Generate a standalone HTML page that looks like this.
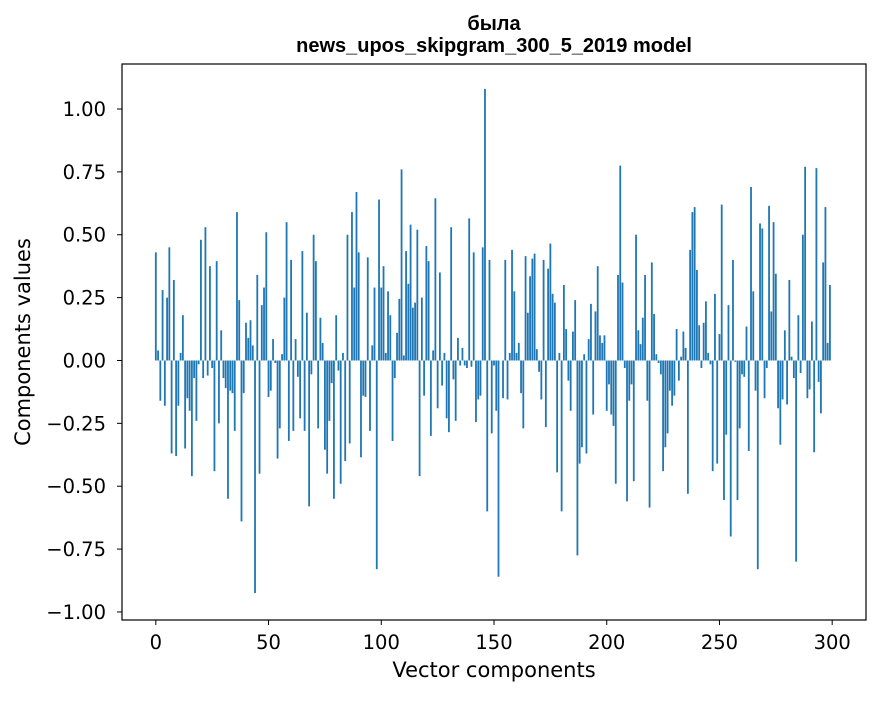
<!DOCTYPE html>
<html><head><meta charset="utf-8"><style>
body{margin:0;background:#fff;}
svg text{font-family:"DejaVu Sans","Liberation Sans",sans-serif;fill:#000;}
svg text.title{font-family:"Liberation Sans","DejaVu Sans",sans-serif;}
</style></head><body>
<svg id="chart" width="880" height="696" xmlns="http://www.w3.org/2000/svg">
<text class="title" x="494" y="30" text-anchor="middle" font-size="20" font-weight="bold">была</text>
<text class="title" x="494" y="52" text-anchor="middle" font-size="20" font-weight="bold">news_upos_skipgram_300_5_2019 model</text>
<g id="bars"></g>
<g id="axes"></g>
<rect x="122" y="64" width="744" height="556" fill="none" stroke="#000" stroke-width="1.2"/>
<text x="494" y="677" text-anchor="middle" font-size="21">Vector components</text>
<text transform="translate(30,342) rotate(-90)" text-anchor="middle" font-size="21">Components values</text>
</svg>
<script>
const values = [
0.43,0.04,-0.16,0.28,-0.18,0.25,0.45,-0.37,0.32,-0.38,
-0.18,0.03,0.18,-0.35,-0.15,-0.2,-0.46,-0.07,-0.24,-0.015,
0.48,-0.07,0.53,-0.06,0.375,-0.03,-0.44,0.395,-0.25,0.12,
-0.07,-0.11,-0.55,-0.12,-0.13,-0.28,0.59,0.24,-0.64,-0.13,
0.15,0.09,0.16,0.06,-0.925,0.34,-0.45,0.22,0.29,0.51,
-0.145,-0.12,0.085,-0.01,-0.39,-0.27,0.025,0.25,0.55,-0.32,
0.40,-0.28,0.085,-0.065,-0.23,0.435,-0.28,0.19,-0.58,-0.055,
0.50,0.395,-0.27,0.17,0.07,-0.355,-0.45,-0.24,-0.09,-0.55,
0.18,-0.04,-0.49,0.03,-0.40,0.50,-0.33,0.59,0.29,0.67,
0.43,-0.385,-0.14,-0.145,0.41,-0.28,0.06,0.29,-0.83,0.64,
0.29,0.375,0.03,0.275,0.18,-0.32,-0.07,0.11,0.245,0.76,
0.02,0.435,0.305,0.54,0.21,0.23,0.52,-0.46,0.25,-0.14,
0.455,0.395,-0.30,0.04,0.645,-0.19,0.35,-0.10,0.03,-0.23,
-0.285,0.53,-0.075,-0.24,0.09,-0.02,0.05,-0.02,-0.03,0.565,
-0.025,0.43,-0.245,-0.155,-0.14,0.45,1.08,-0.60,0.40,-0.29,
-0.02,-0.20,-0.86,0,-0.15,0.40,-0.155,0.03,0.44,0.275,
0.03,0.07,-0.13,-0.27,0.415,0.19,0.335,0.405,0.425,0.045,
-0.045,-0.155,0.40,-0.265,0.365,0.465,0.265,0.23,-0.445,0.03,
-0.60,0.30,0.125,-0.08,-0.20,0.115,0.24,-0.775,-0.41,-0.345,
0.025,-0.37,0.085,0.225,-0.215,0.195,0.375,0.10,0.07,0.10,
-0.20,-0.095,-0.215,-0.26,-0.49,0.34,0.775,0.31,-0.03,-0.56,
-0.16,-0.095,-0.48,0.50,0.12,0.065,0.17,0.34,-0.16,-0.585,
0.39,0.185,0.025,-0.01,-0.055,-0.44,-0.345,-0.29,-0.12,-0.18,
-0.14,0.125,-0.08,0.015,0.115,0.05,-0.53,0.44,0.59,0.61,
0.36,0.14,-0.03,0.15,0.235,0.03,-0.015,-0.44,0.265,-0.41,
0.105,0.62,-0.555,-0.295,0.22,-0.70,0.40,-0.005,-0.555,-0.27,
-0.055,-0.065,0.135,-0.36,0.69,0.275,-0.12,-0.83,0.545,0.525,
-0.15,-0.03,0.615,0.195,0.55,0.345,-0.19,-0.335,-0.155,0.12,
-0.175,0.32,0.015,-0.07,-0.80,0.18,-0.05,0.50,0.77,-0.15,
-0.115,0.155,-0.365,0.765,-0.085,-0.21,0.39,0.61,0.07,0.30
];
const yTicks = [-1.00,-0.75,-0.50,-0.25,0.00,0.25,0.50,0.75,1.00];
const xTicks = [0,50,100,150,200,250,300];
const NS="http://www.w3.org/2000/svg";
const L=122,R=866,T=64,B=620, xmin=-15,xmax=315, ymin=-1.032, ymax=1.179;
const xs=v=>L+(v-xmin)/(xmax-xmin)*(R-L);
const ys=v=>T+(ymax-v)/(ymax-ymin)*(B-T);
const bars=document.getElementById('bars'), axes=document.getElementById('axes');
const bw=(xs(0.8)-xs(0));
values.forEach((v,i)=>{
  const r=document.createElementNS(NS,'rect');
  const y0=ys(0), y1=ys(v);
  r.setAttribute('x',xs(i)-bw/2);
  r.setAttribute('y',Math.min(y0,y1));
  r.setAttribute('width',bw);
  r.setAttribute('height',Math.abs(y1-y0));
  r.setAttribute('fill','#1f77b4');
  
  
  bars.appendChild(r);
});
yTicks.forEach(t=>{
  const y=ys(t);
  const l=document.createElementNS(NS,'line');
  l.setAttribute('x1',L-5);l.setAttribute('x2',L);l.setAttribute('y1',y);l.setAttribute('y2',y);l.setAttribute('stroke','#000');
  
  
  axes.appendChild(l);
  const tx=document.createElementNS(NS,'text');
  tx.setAttribute('x',L-16);tx.setAttribute('y',y+7);tx.setAttribute('text-anchor','end');tx.setAttribute('font-size','19.5');
  tx.textContent=(t<0?'\u2212':'')+Math.abs(t).toFixed(2);
  
  
  axes.appendChild(tx);
});
xTicks.forEach(t=>{
  const x=xs(t);
  const l=document.createElementNS(NS,'line');
  l.setAttribute('x1',x);l.setAttribute('x2',x);l.setAttribute('y1',B);l.setAttribute('y2',B+5);l.setAttribute('stroke','#000');
  
  
  axes.appendChild(l);
  const tx=document.createElementNS(NS,'text');
  tx.setAttribute('x',x);tx.setAttribute('y',B+29);tx.setAttribute('text-anchor','middle');tx.setAttribute('font-size','19.5');
  tx.textContent=t;
  
  
  axes.appendChild(tx);
});
</script>
</body></html>
